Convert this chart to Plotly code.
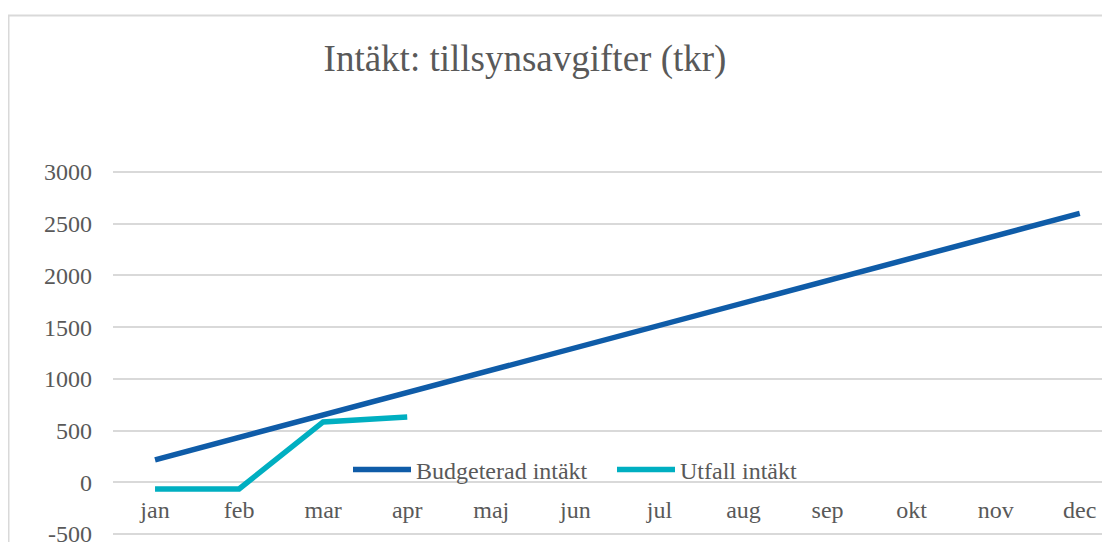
import plotly.graph_objects as go

months = ["jan", "feb", "mar", "apr", "maj", "jun", "jul", "aug", "sep", "okt", "nov", "dec"]
budget = [217, 433, 650, 867, 1083, 1300, 1517, 1733, 1950, 2167, 2383, 2600]
utfall_months = ["jan", "feb", "mar", "apr"]
utfall = [-65, -65, 583, 631]
y_ticks = [-500, 0, 500, 1000, 1500, 2000, 2500, 3000]

FONT = "Liberation Serif, Times New Roman, serif"
GRAY = "#595959"

OFF = 8  # page body margin
W, H = 1110 - OFF, 542 - OFF
ML, MT = 113 - OFF, 150 - OFF
plot_w = W - ML
plot_h = H - MT
y_lo, y_hi = -578, 3213
zero_frac = (0 - y_lo) / (y_hi - y_lo)

fig = go.Figure()
fig.add_trace(go.Scatter(x=months, y=budget, mode="lines", name="Budgeterad intäkt",
                         line=dict(color="#0F5CA8", width=5.5)))
fig.add_trace(go.Scatter(x=utfall_months, y=utfall, mode="lines", name="Utfall intäkt",
                         line=dict(color="#00AFC1", width=5.5)))

fig.update_layout(
    width=W, height=H, autosize=False,
    margin=dict(l=ML, r=0, t=MT, b=0, pad=0, autoexpand=False),
    paper_bgcolor="white", plot_bgcolor="white",
    font=dict(family=FONT, color=GRAY, size=24),
    title=dict(text="Intäkt: tillsynsavgifter (tkr)", x=(525 - OFF) / W, xref="container",
               xanchor="center", y=1 - (58 - OFF) / H, yref="container", yanchor="middle",
               font=dict(family=FONT, size=37, color=GRAY)),
    showlegend=True,
    legend=dict(orientation="h", x=(348 - OFF - ML) / plot_w, xref="paper", xanchor="left",
                y=(H - (470 - OFF)) / plot_h, yref="paper", yanchor="middle",
                font=dict(family=FONT, size=24, color=GRAY),
                bgcolor="rgba(0,0,0,0)", itemwidth=58, tracegroupgap=0,
                entrywidth=191, entrywidthmode="pixels"),
    xaxis=dict(type="category", categoryorder="array", categoryarray=months,
               range=[-0.5, 11.36], anchor="free", position=zero_frac, automargin=False,
               showgrid=False, zeroline=False, showline=False, ticks="",
               ticklabelstandoff=11, tickfont=dict(family=FONT, size=24, color=GRAY)),
    yaxis=dict(range=[y_lo, y_hi], tickvals=y_ticks, ticktext=[str(v) for v in y_ticks],
               showgrid=True, automargin=False, ticklabeloverflow="allow",
               gridcolor="#D9D9D9", gridwidth=1.5, zeroline=False, showline=False,
               ticks="", ticklabelstandoff=20,
               tickfont=dict(family=FONT, size=24, color=GRAY)),
    shapes=[dict(type="rect", xref="paper", yref="paper",
                 x0=(8.5 - OFF - ML) / plot_w, x1=1.2, y0=-0.2, y1=(H - (15.5 - OFF)) / plot_h,
                 line=dict(color="#D9D9D9", width=2), fillcolor="rgba(0,0,0,0)", layer="below")],
)

fig.write_html("out.html")
